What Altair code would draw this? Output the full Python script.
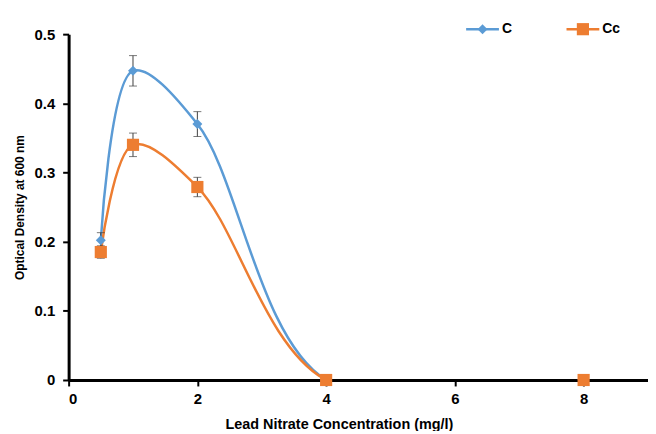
import altair as alt
import pandas as pd

conc = [0.5, 1, 2, 4, 8]
series_names = ["C", "Cc"]
c_vals = [0.202, 0.447, 0.370, 0.0, 0.0]
c_err = [0.011, 0.022, 0.018, 0.0, 0.0]
cc_vals = [0.185, 0.340, 0.279, 0.0, 0.0]
cc_err = [0.009, 0.017, 0.014, 0.0, 0.0]
shapes = ["diamond", "square"]
marker_sizes = [100, 150]
colors = ["#5B9BD5", "#ED7D31"]

rows = []
for name, vals, errs, shp in zip(series_names, [c_vals, cc_vals], [c_err, cc_err], shapes):
    for xv, yv, ev in zip(conc, vals, errs):
        rows.append({"conc": xv, "od": yv, "err": ev, "lo": yv - ev, "hi": yv + ev,
                     "series": name, "shape": shp})
df = pd.DataFrame(rows)

FONT = "Liberation Sans"
xscale = alt.Scale(domain=[0, 9], nice=False)
yscale = alt.Scale(domain=[0, 0.5], nice=False)

xaxis = alt.Axis(values=[0, 2, 4, 6, 8], format="d",
                 title="Lead Nitrate Concentration (mg/l)",
                 titleX=272, titleAlign="center", titleFontSize=14.5,
                 labelPadding=6, titlePadding=11)
yaxis = alt.Axis(values=[0, 0.1, 0.2, 0.3, 0.4, 0.5],
                 labelExpr="datum.value == 0 ? '0' : format(datum.value, '.1f')",
                 title="Optical Density at 600 nm", titleFontSize=12,
                 labelPadding=8, titlePadding=8)


def X():
    return alt.X("conc:Q", scale=xscale, axis=xaxis)


def Y(field):
    return alt.Y(f"{field}:Q", scale=yscale, axis=yaxis)


color_scale = alt.Scale(domain=series_names, range=colors)

base = alt.Chart(df)

lines = base.mark_line(interpolate="catmull-rom", strokeWidth=2.5, clip=True).encode(
    x=X(), y=Y("od"),
    color=alt.Color("series:N", scale=color_scale, legend=None),
    detail="series:N",
)

err_df = df[df["err"] > 0]
errs = alt.Chart(err_df).mark_rule(color="#404040", strokeWidth=1).encode(
    x=X(), y=Y("lo"), y2="hi:Q")
caps_hi = alt.Chart(err_df).mark_tick(color="#404040", orient="horizontal", size=8, thickness=1).encode(
    x=X(), y=Y("hi"))
caps_lo = alt.Chart(err_df).mark_tick(color="#404040", orient="horizontal", size=8, thickness=1).encode(
    x=X(), y=Y("lo"))

layers = [lines, errs, caps_hi, caps_lo]
for name, shp, sz, col in zip(series_names, shapes, marker_sizes, colors):
    layers.append(alt.Chart(df[df["series"] == name]).mark_point(
        filled=True, opacity=1, shape=shp, size=sz, color=col
    ).encode(x=X(), y=Y("od")))

# manual legend (pixel positions inside the plot group)
legend_df = pd.DataFrame({"series": series_names})
legend_x = [400, 501]   # left end of each legend line sample
legend_y = -5
for name, shp, sz, col, lx in zip(series_names, shapes, marker_sizes, colors, legend_x):
    ld = alt.Chart(legend_df).transform_filter(alt.datum.series == name)
    layers.append(ld.mark_rule(color=col, strokeWidth=2.5).encode(
        x=alt.value(lx), x2=alt.value(lx + 33), y=alt.value(legend_y)))
    layers.append(ld.mark_point(filled=True, opacity=1, shape=shp, size=sz, color=col).encode(
        x=alt.value(lx + 16.5), y=alt.value(legend_y)))
    layers.append(ld.mark_text(align="left", baseline="middle", font=FONT, fontSize=14,
                               fontWeight="bold", color="black").encode(
        x=alt.value(lx + 36), y=alt.value(legend_y), text="series:N"))

chart = alt.layer(*layers).properties(
    width=583, height=348,
    autosize=alt.AutoSizeParams(type="none"),
    padding={"left": 61, "top": 25, "right": 0, "bottom": 50},
).configure_view(stroke=None).configure_axis(
    grid=False, domainColor="black", domainWidth=3, tickColor="black", tickWidth=2, tickSize=6,
    labelFont=FONT, labelFontSize=15, labelFontWeight="bold", labelColor="black",
    titleFont=FONT, titleFontWeight="bold", titleColor="black",
)

chart.save("out.html", embed_options={"renderer": "svg", "actions": False})
